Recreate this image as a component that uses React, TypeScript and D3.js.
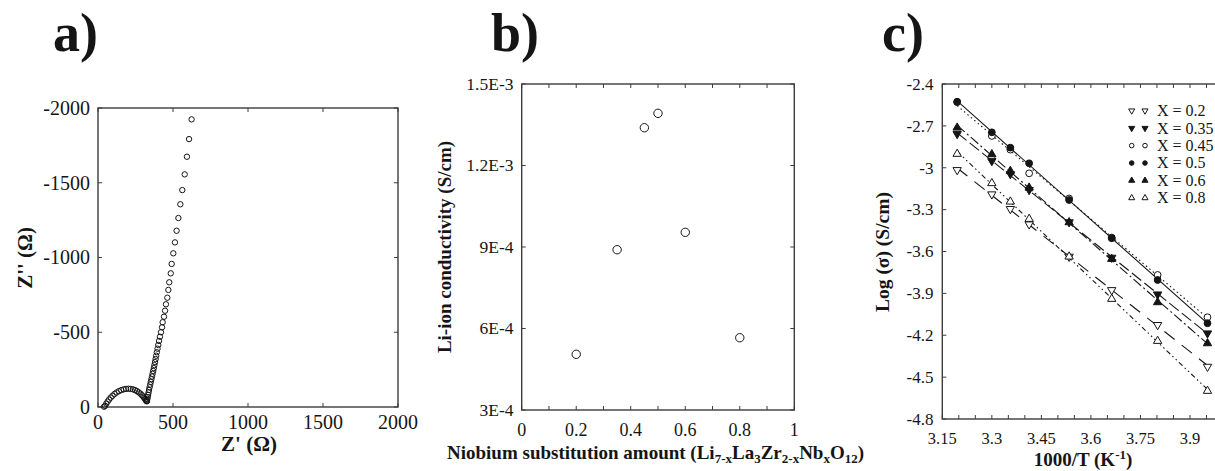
import React from 'react';
import * as d3 from 'd3';

// ---------- Panel a: Nyquist plot ----------
const zReal = [40, 47, 55, 64, 74, 85, 97, 110, 124, 139, 155, 171, 187, 203, 218, 233, 247, 260, 272, 283, 293, 301, 308, 314, 319, 322, 325, 327,
  329, 331, 334, 337, 340, 344, 348, 352, 356, 360, 364, 368, 372, 376, 380, 384, 388, 392, 397, 402, 407, 413,
  420, 427, 431, 440, 447, 453, 462, 469, 475, 485, 491, 502, 513, 524, 536, 549, 562, 578, 593, 607, 624];
const zImag = [-2, -8, -22, -36, -50, -63, -75, -87, -97, -106, -113, -118, -121, -122, -121, -118, -113, -106, -98, -89, -79, -70, -61, -53, -46, -41, -38, -40,
  -54, -66, -81, -97, -114, -132, -150, -168, -186, -204, -222, -241, -260, -280, -300, -321, -343, -366, -390, -415, -442, -470,
  -500, -533, -567, -604, -644, -687, -731, -783, -834, -894, -957, -1028, -1101, -1179, -1264, -1356, -1451, -1556, -1674, -1792, -1924];
const aXTicks = [0, 500, 1000, 1500, 2000];
const aYTicks = [0, -500, -1000, -1500, -2000];

// ---------- Panel b: conductivity vs Nb ----------
const nbAmount = [0.2, 0.35, 0.45, 0.5, 0.6, 0.8];
const conductivity = [5.05e-4, 8.9e-4, 1.339e-3, 1.392e-3, 9.54e-4, 5.66e-4];
const bXTicks = [0, 0.2, 0.4, 0.6, 0.8, 1];
const bXTickLabels = ['0', '0.2', '0.4', '0.6', '0.8', '1'];
const bYTicks = [3e-4, 6e-4, 9e-4, 1.2e-3, 1.5e-3];
const bYTickLabels = ['3E-4', '6E-4', '9E-4', '1.2E-3', '1.5E-3'];

// ---------- Panel c: Arrhenius ----------
const invT = [3.195, 3.3, 3.356, 3.413, 3.534, 3.663, 3.802, 3.953];
const seriesLabels = ['X = 0.2', 'X = 0.35', 'X = 0.45', 'X = 0.5', 'X = 0.6', 'X = 0.8'];
const logX020 = [-3.016, -3.19, -3.295, -3.405, -3.637, -3.876, -4.126, -4.425];
const logX035 = [-2.758, -2.952, -3.045, -3.159, -3.39, -3.644, -3.907, -4.186];
const logX045 = [-2.53, -2.772, -2.87, -3.04, -3.22, -3.5, -3.768, -4.071];
const logX050 = [-2.527, -2.746, -2.856, -2.968, -3.231, -3.505, -3.804, -4.114];
const logX060 = [-2.713, -2.904, -3.023, -3.143, -3.391, -3.654, -3.964, -4.258];
const logX080 = [-2.901, -3.111, -3.243, -3.367, -3.637, -3.94, -4.241, -4.599];
const cXTicks = [3.15, 3.3, 3.45, 3.6, 3.75, 3.9];
const cXTickLabels = ['3.15', '3.3', '3.45', '3.6', '3.75', '3.9'];
const cYTicks = [-2.4, -2.7, -3, -3.3, -3.6, -3.9, -4.2, -4.5, -4.8];
const cYTickLabels = ['-2.4', '-2.7', '-3', '-3.3', '-3.6', '-3.9', '-4.2', '-4.5', '-4.8'];

const FONT = 'Liberation Serif, Times New Roman, Times, DejaVu Serif, serif';
const AX = '#3c3c3c';
const INK = '#151515';

function fit(xs: number[], ys: number[]) {
  const mx = d3.mean(xs)!; const my = d3.mean(ys)!;
  let num = 0, den = 0;
  xs.forEach((x, i) => { num += (x - mx) * (ys[i] - my); den += (x - mx) * (x - mx); });
  const m = num / den; const b = my - m * mx;
  return (x: number) => m * x + b;
}

function Box({ x0, x1, y0, y1 }: any) {
  return <rect x={x0} y={y0} width={x1 - x0} height={y1 - y0} fill="none" stroke={AX} strokeWidth={1.4} />;
}

export default function App() {
  const ax = d3.scaleLinear().domain([0, 2000]).range([98, 398]);
  const ay = d3.scaleLinear().domain([0, -2000]).range([407, 108]);
  const bx = d3.scaleLinear().domain([0, 1]).range([521.7, 794.3]);
  const by = d3.scaleLinear().domain([3e-4, 1.5e-3]).range([410, 84]);
  const cx = d3.scaleLinear().domain([3.15, 4.0]).range([942.3, 1223]);
  const cy = d3.scaleLinear().domain([-4.8, -2.4]).range([419, 84]);

  const series = [
    { label: seriesLabels[0], ys: logX020, shape: 'down', filled: false, dash: '13,9' },
    { label: seriesLabels[1], ys: logX035, shape: 'down', filled: true, dash: '12,4' },
    { label: seriesLabels[2], ys: logX045, shape: 'circle', filled: false, dash: '1.5,3' },
    { label: seriesLabels[3], ys: logX050, shape: 'circle', filled: true, dash: '' },
    { label: seriesLabels[4], ys: logX060, shape: 'up', filled: true, dash: '10,3,2,3' },
    { label: seriesLabels[5], ys: logX080, shape: 'up', filled: false, dash: '5,3,1.5,3,1.5,3' },
  ];

  const tri = d3.symbol().type(d3.symbolTriangle).size(30)()!;
  const triSmall = d3.symbol().type(d3.symbolTriangle).size(16)()!;

  const marker = (shape: string, filled: boolean, x: number, y: number, small = false, key?: any) => {
    const fill = filled ? INK : 'white';
    if (shape === 'circle') {
      return <circle key={key} cx={x} cy={y} r={small ? 2.3 : 3.4} fill={fill} stroke={INK} strokeWidth={1} />;
    }
    const rot = shape === 'down' ? 180 : 0;
    return <path key={key} d={small ? triSmall : tri} transform={`translate(${x},${y}) rotate(${rot})`} fill={fill} stroke={INK} strokeWidth={1} />;
  };

  const tickLen = 4;
  const cMinor = d3.range(3.15, 4.0001, 0.05);
  const bMinor = d3.range(0, 1.0001, 0.1);

  return (
    <svg width={1215} height={471} style={{ position: 'absolute', left: 0, top: 0, background: 'white', fontFamily: FONT }}>
      <rect x={0} y={0} width={1215} height={471} fill="white" />
      <text x={53} y={51} fontSize={54} fontWeight="bold" fill={INK}>a)</text>
      <text x={491} y={51} fontSize={54} fontWeight="bold" fill={INK}>b)</text>
      <text x={882} y={51} fontSize={54} fontWeight="bold" fill={INK}>c)</text>

      {/* ---------- Panel a ---------- */}
      <g>
        {aXTicks.map((t, i) => (
          <g key={'ax' + i}>
            <line x1={ax(t)} x2={ax(t)} y1={407} y2={407 - tickLen} stroke={AX} />
            <line x1={ax(t)} x2={ax(t)} y1={108} y2={108 + tickLen} stroke={AX} />
            <text x={ax(t)} y={429} fontSize={20} textAnchor="middle" fill={INK}>{t}</text>
          </g>
        ))}
        {aYTicks.map((t, i) => (
          <g key={'ay' + i}>
            <line x1={98} x2={98 + tickLen} y1={ay(t)} y2={ay(t)} stroke={AX} />
            <line x1={398} x2={398 - tickLen} y1={ay(t)} y2={ay(t)} stroke={AX} />
            <text x={90} y={ay(t)} dy="0.34em" fontSize={20} textAnchor="end" fill={INK}>{t}</text>
          </g>
        ))}
        <Box x0={98} x1={398} y0={108} y1={407} />
        {zReal.map((r, i) => (
          <circle key={'z' + i} cx={ax(r)} cy={ay(zImag[i])} r={2.7} fill="none" stroke={INK} strokeWidth={1} />
        ))}
        <text x={249} y={451} fontSize={21} fontWeight="bold" textAnchor="middle" fill={INK}>Z' (Ω)</text>
        <text transform="translate(32,258) rotate(-90)" fontSize={21} fontWeight="bold" textAnchor="middle" fill={INK}>Z'' (Ω)</text>
      </g>

      {/* ---------- Panel b ---------- */}
      <g>
        {bMinor.map((t, i) => (
          <g key={'bm' + i}>
            <line x1={bx(t)} x2={bx(t)} y1={410} y2={410 - tickLen} stroke={AX} />
            <line x1={bx(t)} x2={bx(t)} y1={84} y2={84 + tickLen} stroke={AX} />
          </g>
        ))}
        {bXTicks.map((t, i) => (
          <text key={'bxl' + i} x={bx(t)} y={436} fontSize={18} textAnchor="middle" fill={INK}>{bXTickLabels[i]}</text>
        ))}
        {bYTicks.map((t, i) => (
          <g key={'by' + i}>
            <line x1={521.7} x2={521.7 + tickLen} y1={by(t)} y2={by(t)} stroke={AX} />
            <line x1={794.3} x2={794.3 - tickLen} y1={by(t)} y2={by(t)} stroke={AX} />
            <text x={513.5} y={by(t)} dy="0.34em" fontSize={17.5} textAnchor="end" fill={INK}>{bYTickLabels[i]}</text>
          </g>
        ))}
        <Box x0={521.7} x1={794.3} y0={84} y1={410} />
        {nbAmount.map((n, i) => (
          <circle key={'b' + i} cx={bx(n)} cy={by(conductivity[i])} r={4.2} fill="none" stroke={INK} strokeWidth={1} />
        ))}
        <text x={447} y={459} fontSize={19} fontWeight="bold" fill={INK}>
          Niobium substitution amount (Li<tspan fontSize={13} dy={4}>7-x</tspan><tspan dy={-4}>La</tspan><tspan fontSize={13} dy={4}>3</tspan><tspan dy={-4}>Zr</tspan><tspan fontSize={13} dy={4}>2-x</tspan><tspan dy={-4}>Nb</tspan><tspan fontSize={13} dy={4}>x</tspan><tspan dy={-4}>O</tspan><tspan fontSize={13} dy={4}>12</tspan><tspan dy={-4}>)</tspan>
        </text>
        <text transform="translate(451,247) rotate(-90)" fontSize={19} fontWeight="bold" textAnchor="middle" fill={INK}>Li-ion conductivity (S/cm)</text>
      </g>

      {/* ---------- Panel c ---------- */}
      <g>
        {cMinor.map((t, i) => (
          <g key={'cm' + i}>
            <line x1={cx(t)} x2={cx(t)} y1={419} y2={419 - tickLen} stroke={AX} />
            <line x1={cx(t)} x2={cx(t)} y1={84} y2={84 + tickLen} stroke={AX} />
          </g>
        ))}
        {cXTicks.map((t, i) => (
          <text key={'cxl' + i} x={cx(t)} y={444} fontSize={16.5} textAnchor="middle" fill={INK}>{cXTickLabels[i]}</text>
        ))}
        {cYTicks.map((t, i) => (
          <g key={'cy' + i}>
            <line x1={942.3} x2={942.3 + tickLen} y1={cy(t)} y2={cy(t)} stroke={AX} />
            <text x={933.5} y={cy(t)} dy="0.34em" fontSize={17} textAnchor="end" fill={INK}>{cYTickLabels[i]}</text>
          </g>
        ))}
        <Box x0={942.3} x1={1223} y0={84} y1={419} />
        {series.map((s, si) => {
          const f = fit(invT, s.ys);
          const x0 = invT[0], x1 = invT[invT.length - 1];
          return (
            <line key={'fl' + si} x1={cx(x0)} y1={cy(f(x0))} x2={cx(x1)} y2={cy(f(x1))} stroke={INK} strokeWidth={1.1} strokeDasharray={s.dash || undefined} />
          );
        })}
        {series.map((s, si) => (
          <g key={'mk' + si}>
            {invT.map((t, i) => marker(s.shape, s.filled, cx(t), cy(s.ys[i]), false, i))}
          </g>
        ))}
        {series.map((s, si) => {
          const yy = 110.7 + si * 17.45;
          return (
            <g key={'lg' + si}>
              {marker(s.shape, s.filled, 1131.7, yy, true)}
              {marker(s.shape, s.filled, 1145, yy, true)}
              <text x={1157} y={yy} dy="0.34em" fontSize={16} fill={INK}>{s.label}</text>
            </g>
          );
        })}
        <text x={1083} y={466} fontSize={19} fontWeight="bold" textAnchor="middle" fill={INK}>1000/T (K<tspan fontSize={13} dy={-7}>-1</tspan><tspan dy={7}>)</tspan></text>
        <text transform="translate(889,252) rotate(-90)" fontSize={19.5} fontWeight="bold" textAnchor="middle" fill={INK}>Log (σ) (S/cm)</text>
      </g>
    </svg>
  );
}
